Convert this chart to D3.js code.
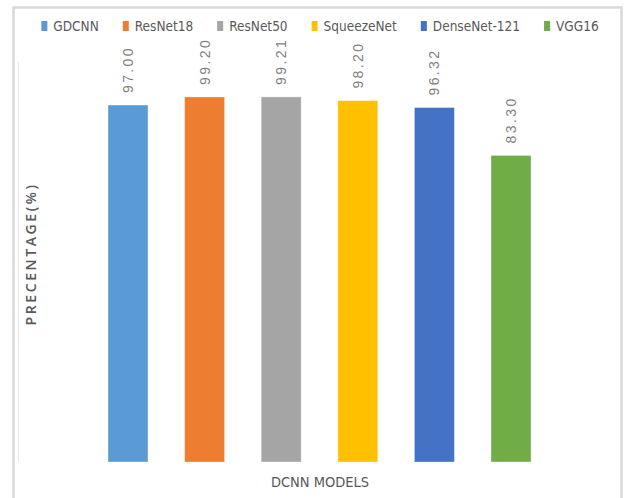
<!DOCTYPE html>
<html>
<head>
<meta charset="utf-8">
<script src="https://cdn.jsdelivr.net/npm/d3@7"></script>
<style>
  html, body { margin: 0; padding: 0; background: #fff; }
  svg { display: block; }
</style>
</head>
<body>
<svg id="chart" width="628" height="498"></svg>
<script>
// Model accuracy comparison
const models = ["GDCNN", "ResNet18", "ResNet50", "SqueezeNet", "DenseNet-121", "VGG16"];
const accuracy = [97.00, 99.20, 99.21, 98.20, 96.32, 83.30];
const colors = ["#5B9BD5", "#ED7D31", "#A5A5A5", "#FFC000", "#4472C4", "#70AD47"];
const yDomain = [0, 100];
const xTitle = "DCNN MODELS";
const yTitle = "PRECENTAGE(%)";

const svg = d3.select("#chart");
const narrow = "'DejaVu Sans Condensed', 'Liberation Sans Narrow', 'Liberation Sans', sans-serif";

// Chart frame
svg.append("rect")
  .attr("x", 13.5).attr("y", 7.5)
  .attr("width", 608).attr("height", 520)
  .attr("fill", "#fff")
  .attr("stroke", "#d9d9d9")
  .attr("stroke-width", 2.5);

// Scales
const x = d3.scaleBand()
  .domain(models)
  .range([89.7, 549.3])
  .paddingInner(0.478)
  .paddingOuter(0.239);

const y = d3.scaleLinear()
  .domain(yDomain)
  .range([462, 94]);

// Faint vertical axis line
svg.append("line")
  .attr("x1", 18.5).attr("x2", 18.5)
  .attr("y1", 62).attr("y2", y(0))
  .attr("stroke", "#e8e8e8")
  .attr("stroke-width", 1);

const data = models.map((m, i) => ({ model: m, value: accuracy[i], color: colors[i] }));

// Bars
svg.append("g")
  .selectAll("rect")
  .data(data)
  .join("rect")
  .attr("x", d => x(d.model))
  .attr("y", d => y(d.value))
  .attr("width", x.bandwidth())
  .attr("height", d => y(0) - y(d.value))
  .attr("fill", d => d.color)
  .attr("stroke", "#ffffff")
  .attr("stroke-opacity", 0.35)
  .attr("stroke-width", 1);

// Value labels, rotated above each bar
svg.append("g")
  .selectAll("text")
  .data(data)
  .join("text")
  .attr("transform", d => `translate(${x(d.model) + x.bandwidth() / 2},${y(d.value) - 12}) rotate(-90)`)
  .attr("dy", "0.36em")
  .attr("text-anchor", "start")
  .attr("font-family", "'Liberation Sans', Arial, sans-serif")
  .attr("font-size", 14)
  .attr("letter-spacing", 2.4)
  .attr("fill", "#7f7f7f")
  .text(d => d.value.toFixed(2));

// Legend
const legend = svg.append("g").attr("font-family", narrow).attr("font-size", 13.5).attr("fill", "#595959");
const items = legend.selectAll("g")
  .data(data)
  .join("g");
items.append("rect")
  .attr("width", 6).attr("height", 10)
  .attr("y", 21)
  .attr("fill", d => d.color);
items.append("text")
  .attr("x", 12)
  .attr("y", 31)
  .text(d => d.model);

// lay out legend entries by measured width, centred on the plot
const gap = 24;
const widths = [];
items.each(function () { widths.push(this.querySelector("text").getComputedTextLength() + 12); });
const total = d3.sum(widths) + gap * (widths.length - 1);
let cursor = 320 - total / 2;
items.attr("transform", (d, i) => {
  const t = `translate(${cursor},0)`;
  cursor += widths[i] + gap;
  return t;
});

// Axis titles
svg.append("text")
  .attr("x", 320).attr("y", 487)
  .attr("text-anchor", "middle")
  .attr("font-family", narrow)
  .attr("font-size", 14.5)
  .attr("fill", "#595959")
  .text(xTitle);

svg.append("text")
  .attr("transform", "translate(31,254) rotate(-90)")
  .attr("text-anchor", "middle")
  .attr("dy", "0.36em")
  .attr("font-family", "'Open Sans', 'Liberation Sans', sans-serif")
  .attr("font-weight", 600)
  .attr("font-size", 14)
  .attr("letter-spacing", 2.6)
  .attr("fill", "#595959")
  .text(yTitle);
</script>
</body>
</html>
